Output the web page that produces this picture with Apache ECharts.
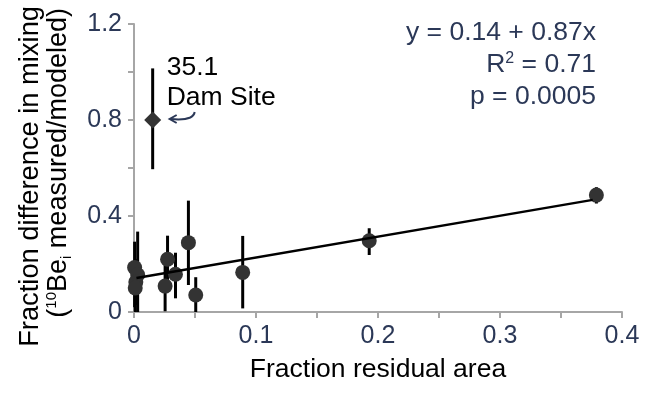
<!DOCTYPE html>
<html>
<head>
<meta charset="utf-8">
<script src="https://cdn.jsdelivr.net/npm/echarts@6/dist/echarts.min.js"></script>
<style>html,body{margin:0;padding:0;background:#fff}#c{width:649px;height:393px}</style>
</head>
<body>
<div id="c"></div>
<script>
// ---- data ----
var siteX   = [0.0005, 0.003, 0.0015, 0.001, 0.0255, 0.0275, 0.034, 0.0446, 0.0506, 0.0891, 0.1928, 0.379];
var siteY   = [0.185, 0.155, 0.125, 0.100, 0.108, 0.220, 0.157, 0.289, 0.071, 0.165, 0.297, 0.487];
var siteLo  = [0.02, 0.0, 0.03, 0.0, 0.003, 0.12, 0.057, 0.1125, 0.0, 0.015, 0.2375, 0.452];
var siteHi  = [0.293, 0.335, 0.22, 0.2, 0.21, 0.318, 0.247, 0.464, 0.145, 0.317, 0.349, 0.52];
var damX  = [0.0153];
var damY  = [0.80];
var damLo = [0.595];
var damHi = [1.015];
var fitIntercept = 0.14;
var fitSlope = 0.87;
var fitRange = [0.002, 0.376];
var xTickValues = [0, 0.1, 0.2, 0.3, 0.4];
var xTickLabels = ['0', '0.1', '0.2', '0.3', '0.4'];
var yTickValues = [0, 0.4, 0.8, 1.2];
var yTickLabels = ['0', '0.4', '0.8', '1.2'];
var eqLines = ['y = 0.14 + 0.87x', 'R', '2', ' = 0.71', 'p = 0.0005'];

var NAVY = '#2b3857';
var AXIS = '#a6a6a6';
var FONT = '"Liberation Sans", Arial, sans-serif';

function pickLabel(vals, labs) {
  return function (v) {
    for (var i = 0; i < vals.length; i++) if (Math.abs(v - vals[i]) < 1e-6) return labs[i];
    return '';
  };
}

var siteData = siteX.map(function (x, i) { return [x, siteY[i]]; });
var damData = damX.map(function (x, i) { return [x, damY[i]]; });
var errData = siteX.map(function (x, i) { return [x, siteLo[i], siteHi[i]]; })
  .concat(damX.map(function (x, i) { return [x, damLo[i], damHi[i]]; }));
var fitData = fitRange.map(function (x) { return [x, fitIntercept + fitSlope * x]; });

var chart = echarts.init(document.getElementById('c'), null, { renderer: 'canvas' });
chart.setOption({
  animation: false,
  backgroundColor: '#fff',
  textStyle: { fontFamily: FONT },
  grid: { left: 134, right: 27, top: 24, bottom: 81, containLabel: false },
  xAxis: {
    type: 'value', min: 0, max: 0.4, interval: 0.05,
    splitLine: { show: false },
    axisLine: { lineStyle: { color: AXIS, width: 2 } },
    axisTick: { show: true, length: 6, lineStyle: { color: AXIS, width: 2 } },
    axisLabel: { color: NAVY, fontSize: 25, fontFamily: FONT, margin: 12,
      formatter: pickLabel(xTickValues, xTickLabels), showMinLabel: true, showMaxLabel: true },
    name: 'Fraction residual area', nameLocation: 'middle', nameGap: 44,
    nameTextStyle: { color: '#000', fontSize: 26.5, fontFamily: FONT }
  },
  yAxis: {
    type: 'value', min: 0, max: 1.2, interval: 0.2,
    splitLine: { show: false },
    axisLine: { lineStyle: { color: AXIS, width: 2 } },
    axisTick: { show: true, length: 6, lineStyle: { color: AXIS, width: 2 } },
    axisLabel: { color: NAVY, fontSize: 25, fontFamily: FONT, margin: 12,
      formatter: pickLabel(yTickValues, yTickLabels), showMinLabel: true, showMaxLabel: true }
  },
  series: [
    {
      type: 'custom', z: 2, data: errData,
      renderItem: function (params, api) {
        var p1 = api.coord([api.value(0), api.value(1)]);
        var p2 = api.coord([api.value(0), api.value(2)]);
        return { type: 'line', shape: { x1: p1[0], y1: p1[1], x2: p2[0], y2: p2[1] },
          style: { stroke: '#000', lineWidth: 3 } };
      }
    },
    { type: 'scatter', z: 3, symbol: 'circle', symbolSize: 15, data: siteData,
      itemStyle: { color: '#333333', opacity: 1 } },
    { type: 'scatter', z: 3, symbol: 'diamond', symbolSize: 17, data: damData,
      itemStyle: { color: '#333333', opacity: 1 } },
    { type: 'line', z: 4, data: fitData, showSymbol: false, symbol: 'none',
      lineStyle: { color: '#000', width: 2.5 } }
  ]
});

var dp = chart.convertToPixel({ gridIndex: 0 }, damData[0]);
var ax = dp[0] + 17, ay = dp[1] - 1;
chart.setOption({
  graphic: [
    { type: 'text', x: 30, y: 6, rotation: Math.PI / 2,
      style: { text: 'Fraction difference in mixing', fill: '#000', font: '27.3px ' + FONT,
        textAlign: 'right', textVerticalAlign: 'middle' } },
    { type: 'text', x: 59, y: 8, rotation: Math.PI / 2,
      style: { text: '{m|(}{sup|10}{m|Be}{sub|i}{m| measured/modeled)}', fill: '#000',
        textAlign: 'right', textVerticalAlign: 'middle',
        rich: {
          m: { fontSize: 27, fontFamily: FONT, fill: '#000', lineHeight: 30, verticalAlign: 'middle' },
          sup: { fontSize: 15, fontFamily: FONT, fill: '#000', verticalAlign: 'top', lineHeight: 30 },
          sub: { fontSize: 15, fontFamily: FONT, fill: '#000', verticalAlign: 'bottom', lineHeight: 30 }
        } } },
    { type: 'text', x: 596, y: 33,
      style: { text: eqLines[0], fill: NAVY, font: '26.5px ' + FONT, textAlign: 'right', textVerticalAlign: 'middle' } },
    { type: 'text', x: 596, y: 65,
      style: { text: '{m|' + eqLines[1] + '}{sup|' + eqLines[2] + '}{m|' + eqLines[3] + '}',
        textAlign: 'right', textVerticalAlign: 'middle',
        rich: {
          m: { fontSize: 26.5, fontFamily: FONT, fill: NAVY, lineHeight: 28, verticalAlign: 'middle' },
          sup: { fontSize: 16, fontFamily: FONT, fill: NAVY, lineHeight: 28, verticalAlign: 'top' }
        } } },
    { type: 'text', x: 596, y: 97,
      style: { text: eqLines[4], fill: NAVY, font: '26.5px ' + FONT, textAlign: 'right', textVerticalAlign: 'middle' } },
    { type: 'text', x: dp[0] + 14, y: dp[1] - 52,
      style: { text: '35.1', fill: '#000', font: '26.5px ' + FONT, textAlign: 'left', textVerticalAlign: 'middle' } },
    { type: 'text', x: dp[0] + 14, y: dp[1] - 22,
      style: { text: 'Dam Site', fill: '#000', font: '26.5px ' + FONT, textAlign: 'left', textVerticalAlign: 'middle' } },
    { type: 'bezierCurve',
      shape: { x1: ax + 25, y1: ay - 7, cpx1: ax + 24, cpy1: ay, cpx2: ax + 12, cpy2: ay + 1, x2: ax + 1, y2: ay },
      style: { stroke: NAVY, lineWidth: 2, fill: null } },
    { type: 'polyline',
      shape: { points: [[ax + 7, ay - 4], [ax, ay], [ax + 7, ay + 4]] },
      style: { stroke: NAVY, lineWidth: 2, fill: null } }
  ]
});
</script>
</body>
</html>
